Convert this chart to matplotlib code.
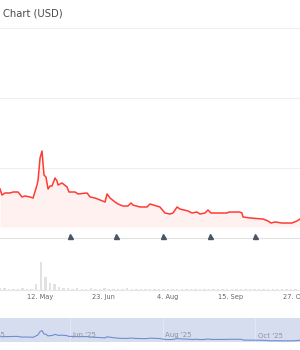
import datetime as dt
import matplotlib
matplotlib.use('Agg')
import matplotlib.pyplot as plt
import matplotlib.dates as mdates

# ---- data
start = dt.datetime(2025, 4, 15)

price_days = [0.6, 1.9, 3.9, 7.2, 9.2, 12.5, 15.1, 17.1, 20.4, 22.4, 25.0, 25.7, 27.0, 28.3,
              29.6, 30.9, 32.3, 33.6, 34.9, 36.9, 38.2, 38.9, 41.5, 44.8, 46.1, 50.1, 52.1,
              58.0, 60.0, 63.3, 66.6, 69.9, 71.2, 73.2, 76.5, 78.4, 81.7, 85.0, 87.0, 88.3,
              92.9, 97.6, 99.5, 106.1, 109.4, 112.7, 114.7, 117.4, 119.3, 124.6, 127.3, 130.5,
              132.5, 135.8, 137.8, 139.8, 150.3, 151.7, 158.9, 160.2, 160.9, 165.5, 174.1,
              177.4, 179.4, 182.0, 186.6, 193.2, 196.5, 198.5]
price = [0.700, 0.614, 0.643, 0.643, 0.657, 0.657, 0.586, 0.600, 0.586, 0.571, 0.757, 0.829,
         1.143, 1.243, 0.900, 0.871, 0.700, 0.743, 0.743, 0.857, 0.814, 0.757, 0.786, 0.729,
         0.657, 0.657, 0.629, 0.643, 0.586, 0.571, 0.543, 0.514, 0.629, 0.571, 0.514, 0.486,
         0.457, 0.457, 0.500, 0.471, 0.443, 0.443, 0.486, 0.443, 0.357, 0.343, 0.357, 0.443,
         0.414, 0.386, 0.357, 0.371, 0.343, 0.357, 0.400, 0.357, 0.357, 0.371, 0.371, 0.357,
         0.300, 0.286, 0.271, 0.243, 0.214, 0.229, 0.214, 0.214, 0.243, 0.271]

# volume every 3 days from start
vol_days = list(range(0, 198, 3))
volume = [6, 8, 5, 5, 4, 6, 5, 4, 22, 100, 45, 25, 22, 10, 8, 6, 5, 6, 5, 5,
          6, 4, 5, 6, 5, 4, 5, 5, 6, 5, 4, 5, 4, 5, 4, 5, 4, 4, 5, 4,
          3, 4, 3, 3, 4, 3, 3, 3, 3, 3, 3, 3, 2, 3, 3, 2, 3, 2, 3, 2,
          3, 2, 2, 3, 2, 2]

flag_dates = [dt.datetime(2025, m, 1) for m in [6, 7, 8, 9, 10]]
tick_dates = [dt.datetime(2025, 5, 12), dt.datetime(2025, 6, 23), dt.datetime(2025, 8, 4),
              dt.datetime(2025, 9, 15), dt.datetime(2025, 10, 27)]
nav_dates = [dt.datetime(2025, m, 1) for m in [4, 6, 8, 10]]
nav_labels = ["Apr '25", "Jun '25", "Aug '25", "Oct '25"]

px = [start + dt.timedelta(days=d) for d in price_days]
vx = [start + dt.timedelta(days=d + 0.5) for d in vol_days]
xlim = (dt.datetime(2025, 4, 15, 14), dt.datetime(2025, 10, 30, 12))

red = '#ff3a33'
grid = '#efefef'

fig = plt.figure(figsize=(3, 3.5), dpi=100)

# ---- price panel
ax = fig.add_axes([0, 110 / 350, 1, 212 / 350])
ax.plot(px, price, color=red, lw=1.1, solid_joinstyle='round')
ax.fill_between(px, price, 0.157, color=red, alpha=0.07, lw=0)
ax.set_xlim(xlim)
ax.set_ylim(-0.0286, 3.0)
for v in [1, 2, 3]:
    ax.axhline(v, color=grid, lw=0.8, zorder=0)
ax.axhline(0, color='#e3e3e3', lw=0.8)
ax.plot(flag_dates, [0.03] * len(flag_dates), ls='none', marker='^', ms=3.6,
        color='#4b5563', clip_on=False)
ax.axis('off')

fig.text(0.01, 1 - 13 / 350, 'Chart (USD)', fontsize=7.2, color='#4a4a4a', va='center')

# ---- volume panel
axv = fig.add_axes([0, 60 / 350, 1, 45 / 350])
axv.bar(vx, volume, width=1.6, color='#e2e2e2', lw=0)
axv.set_xlim(xlim)
axv.set_ylim(0, 160)
for s in ['top', 'left', 'right']:
    axv.spines[s].set_visible(False)
axv.spines['bottom'].set_color('#e6e6e6')
axv.spines['bottom'].set_linewidth(0.8)
axv.set_yticks([])
axv.set_xticks(tick_dates)
axv.xaxis.set_major_formatter(mdates.DateFormatter('%-d. %b'))
axv.tick_params(axis='x', length=0, pad=3, labelsize=4.8, labelcolor='#666666')

# ---- navigator
axn = fig.add_axes([0, 8 / 350, 1, 24 / 350])
axn.set_facecolor('#d6ddef')
axn.plot(px, price, color='#6d8fcf', lw=0.8)
axn.set_xlim(xlim)
axn.set_ylim(0.1, 2.5)
for d, lab in zip(nav_dates, nav_labels):
    axn.axvline(d, color='#e2e7f4', lw=0.7, zorder=0)
    axn.text(d + dt.timedelta(days=1.5), 0.75, lab, fontsize=5, color='#8d93a5',
             va='center', ha='left')
for s in axn.spines.values():
    s.set_visible(False)
axn.set_xticks([])
axn.set_yticks([])

fig.savefig('out.png', dpi=100, facecolor='white')
